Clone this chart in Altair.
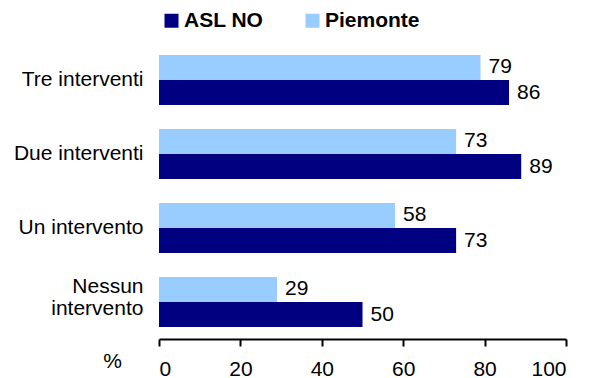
import altair as alt
import pandas as pd

categories = ["Tre interventi", "Due interventi", "Un intervento", "Nessun intervento"]
asl_no = [86, 89, 73, 50]
piemonte = [79, 73, 58, 29]
series = ["ASL NO", "Piemonte"]
x_ticks = [0, 20, 40, 60, 80, 100]

rows = []
for c, a, p in zip(categories, asl_no, piemonte):
    rows.append({"categoria": c, "serie": "ASL NO", "valore": a})
    rows.append({"categoria": c, "serie": "Piemonte", "valore": p})
df = pd.DataFrame(rows)

FONT = "Liberation Sans"
FS = 21

y_enc = alt.Y(
    "categoria:N",
    sort=categories,
    scale=alt.Scale(paddingInner=0.324, paddingOuter=0.162),
    axis=alt.Axis(
        title=None,
        domain=False,
        ticks=False,
        grid=False,
        labelPadding=16,
        labelFont=FONT,
        labelFontSize=FS,
        labelColor="black",
        labelLimit=300,
        labelLineHeight=22,
        labelOffset={"condition": {"test": "datum.value == 'Nessun intervento'", "value": -15}, "value": 0},
        labelExpr="datum.value == 'Nessun intervento' ? ['Nessun', 'intervento'] : datum.label",
    ),
)
yoff = alt.YOffset("serie:N", sort=["Piemonte", "ASL NO"], scale=alt.Scale(paddingInner=0, paddingOuter=0))
x_enc = alt.X(
    "valore:Q",
    scale=alt.Scale(domain=[0, 100], nice=False),
    axis=alt.Axis(
        values=x_ticks,
        title="%",
        titleFont=FONT,
        titleFontSize=FS,
        titleFontWeight="normal",
        titleColor="black",
        titleX=-47,
        titleY=22,
        titleAlign="center",
        titleBaseline="middle",
        grid=False,
        domainColor="black",
        domainWidth=2,
        tickColor="black",
        tickWidth=2,
        tickSize=7,
        labelPadding=12,
        labelFont=FONT,
        labelFontSize=FS,
        labelColor="black",
    ),
)
color_enc = alt.Color(
    "serie:N",
    scale=alt.Scale(domain=series, range=["#000080", "#99CCFF"]),
    legend=alt.Legend(
        title=None,
        orient="none",
        direction="horizontal",
        legendX=2,
        legendY=-33,
        symbolType="square",
        symbolSize=196,
        symbolStrokeWidth=0,
        labelFont=FONT,
        labelFontSize=FS,
        labelFontWeight="bold",
        labelColor="black",
        labelOffset=2,
        columnPadding=38,
    ),
)

bars = alt.Chart(df).mark_bar(size=25).encode(
    y=y_enc, yOffset=yoff, x=x_enc, color=color_enc
)
labels = alt.Chart(df).mark_text(
    align="left", baseline="middle", dx=8, font=FONT, fontSize=FS, color="black"
).encode(y=y_enc, yOffset=yoff, x=x_enc, text="valore:Q")

chart = (
    (bars + labels)
    .properties(
        width=407,
        height=296,
        autosize=alt.AutoSizeParams(type="none"),
        padding={"left": 159, "top": 43, "right": 27, "bottom": 39},
        view=alt.ViewBackground(stroke="transparent", strokeWidth=0),
    )
    .configure_view(stroke="transparent", strokeWidth=0)
    .configure(background="white")
)

chart.save("out.html", embed_options={"renderer": "svg", "actions": False})
